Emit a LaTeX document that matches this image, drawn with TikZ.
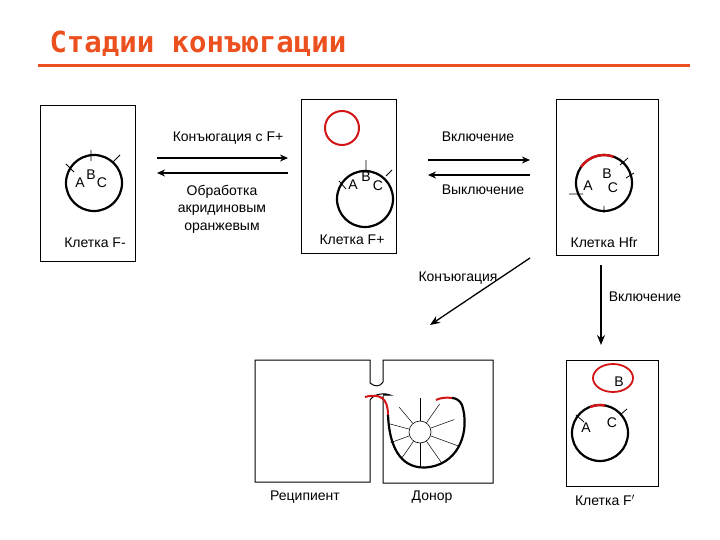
\documentclass[tikz,border=0pt]{standalone}
\usepackage{fontspec}
\setmainfont{Liberation Sans}
\newfontfamily\titlefont{DejaVu Sans Mono}
\usetikzlibrary{arrows.meta}
\definecolor{ttl}{RGB}{235,80,30}
\definecolor{rd}{RGB}{210,20,20}
\tikzset{cell/.style={draw,line width=1pt},
lbl/.style={font=\fontsize{14}{17.5}\selectfont,align=center,inner sep=1pt},
chrom/.style={draw,line width=2.2pt},
tick/.style={draw,line width=0.8pt},
arr/.style={line width=2.4pt,-{Stealth[length=8pt,width=7pt]}},
thinarr/.style={line width=1.3pt,-{Stealth[length=10pt,width=8pt]}}}
\begin{document}
\begin{tikzpicture}[x=1pt,y=-1pt]
\useasboundingbox (0,0) rectangle (720,540);
\node[anchor=west,text=ttl,font=\titlefont\bfseries\fontsize{29}{30}\selectfont] (title) at (46,44) {Стадии конъюгации};
\draw[ttl,line width=3pt] (38,66) -- (690,66);
% cell F-
\draw[cell] (40,106) rectangle (135,261);
\node[chrom,circle,minimum size=56pt,inner sep=0] (c1) at (94,183) {};
\draw[tick] (66,164)--(74,172) (91,150)--(91,161) (113,162)--(120,155);
\node[lbl] (a1) at (80,183) {A}; \node[lbl] (b1) at (91,175) {B}; \node[lbl] (cc1) at (102,183) {C};
\node[lbl] (l1) at (95,243) {Клетка F-};
% cell F+
\draw[cell] (301,100) rectangle (396,253);
\node[draw=rd,line width=2pt,circle,minimum size=34pt,inner sep=0] (p1) at (342,128) {};
\node[chrom,circle,minimum size=56pt,inner sep=0] (c2) at (365,199) {};
\draw[tick] (339,181)--(346,189) (366,160)--(366,172) (386,176)--(392,170);
\node[lbl] (a2) at (353,185) {A}; \node[lbl] (b2) at (366,177) {B}; \node[lbl] (cc2) at (378,186) {C};
\node[lbl] (l2) at (352,240) {Клетка F+};
% cell Hfr
\draw[cell] (556,100) rectangle (658,255);
\node[chrom,circle,minimum size=56pt,inner sep=0] (c3) at (604,183) {};
\draw[rd,line width=2.4pt] (581,167) arc (215:290:28);
\draw[tick] (569,194)--(583,194) (620,165)--(628,158) (626,178)--(634,173) (604,206)--(604,213);
\node[lbl] (a3) at (588,186) {A}; \node[lbl] (b3) at (607,174) {B}; \node[lbl] (cc3) at (613,188) {C};
\node[lbl] (l3) at (604,243) {Клетка Hfr};
% top arrows
\coordinate (r1s) at (157,158); \coordinate (r1e) at (288,158);
\coordinate (l1s) at (288,173); \coordinate (l1e) at (157,173);
\draw[arr] (r1s) -- (r1e); \draw[arr] (l1s) -- (l1e);
\node[lbl] (t1) at (228,138) {Конъюгация с F+};
\node[lbl] (t2) at (222,209) {Обработка\\акридиновым\\оранжевым};
\coordinate (r2s) at (428,160); \coordinate (r2e) at (530,160);
\coordinate (l2s) at (530,175); \coordinate (l2e) at (428,175);
\draw[arr] (r2s) -- (r2e); \draw[arr] (l2s) -- (l2e);
\node[lbl] (t3) at (478,137) {Включение};
\node[lbl] (t4) at (483,190) {Выключение};
% diagonal arrows
\coordinate (d1s) at (530,258); \coordinate (d1e) at (430,325);
\draw[thinarr] (d1s) -- (d1e);
\node[lbl] (t5) at (458,278) {Конъюгация};
\coordinate (d2s) at (601,265); \coordinate (d2e) at (601,345);
\draw[thinarr] (d2s) -- (d2e);
\node[lbl] (t6) at (645,297) {Включение};
% recipient and donor
\draw[cell] (370,383) -- (370,360) -- (255,360) -- (255,482) -- (370,482) -- (370,400) .. controls (375,393) and (385,393) .. (390,395) -- (383,395);
\draw[cell] (370,383) .. controls (375,387) and (380,387) .. (383,382) -- (383,360) -- (493,360) -- (493,483) -- (383,483) -- (383,396);
\draw[rd,line width=2pt] (365,397) .. controls (380,393) and (388,398) .. (388,415);
\draw[chrom] (388,415) .. controls (390,460) and (410,470) .. (430,467) .. controls (460,462) and (470,430) .. (462,405) .. controls (460,400) and (455,398) .. (452,398);
\draw[rd,line width=2pt] (452,398) .. controls (446,397) and (440,398) .. (436,400);
\node[draw,circle,minimum size=22pt,inner sep=0,line width=0.6pt] (ctr) at (420,432) {};
\foreach \a/\r in {90/34,130/32,165/32,200/31,235/32,270/35,305/38,340/40,20/36,55/34}
  \draw[line width=0.5pt] (ctr.\a) -- ++(-\a:{\r-11});
\node[lbl] (l4) at (305,497) {Реципиент};
\node[lbl] (l5) at (432,497) {Донор};
% cell F'
\draw[cell] (566,360) rectangle (658,486);
\draw[rd,line width=1.8pt] (613,378) ellipse (20 and 14);
\node[lbl] (b4) at (619,382) {B};
\node[chrom,circle,minimum size=56pt,inner sep=0] (c4) at (600,433) {};
\draw[rd,line width=2.4pt] (590,407) arc (-111:-80:28);
\draw[tick] (576,415)--(584,422) (620,415)--(627,409);
\node[lbl] (a4) at (586,428) {A}; \node[lbl] (cc4) at (612,423) {C};
\node[lbl] (l6) at (605,500) {Клетка F$'$};
\end{tikzpicture}
\end{document}
